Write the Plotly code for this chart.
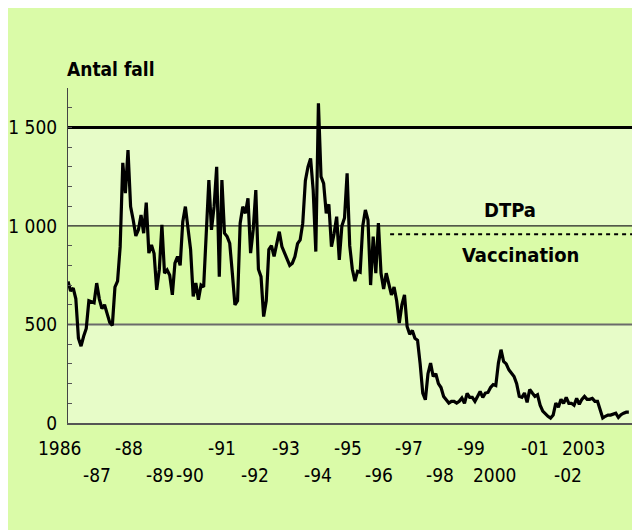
import plotly.graph_objects as go

# ---- data (monthly cases, Jan 1986 - Dec 2003) ----
start_year = 1986
cases = [
    718, 670, 684, 630, 430, 390, 440, 480, 620, 615, 610, 710,
    630, 580, 600, 555, 510, 495, 690, 720, 895, 1320, 1166, 1385,
    1098, 1030, 949, 980, 1056, 963, 1118, 862, 904, 860, 676, 777,
    1005, 760, 777, 750, 650, 811, 845, 800, 1022, 1098, 972, 880,
    642, 710, 625, 700, 690, 929, 1233, 980, 1098, 1300, 743, 1233,
    963, 946, 912, 760, 600, 620, 1014, 1098, 1064, 1140, 862, 980,
    1182, 780, 743, 540, 620, 880, 900, 845, 912, 971, 895, 861,
    828, 800, 811, 845, 910, 929, 1014, 1230, 1300, 1343, 1180, 870,
    1622, 1250, 1216, 1064, 1110, 895, 960, 1047, 828, 1000, 1040, 1267,
    900, 780, 720, 770, 765, 1000, 1081, 1030, 700, 946, 760, 1014,
    760, 680, 760, 710, 650, 690, 620, 507, 600, 650, 490, 450,
    470, 430, 420, 300, 152, 118, 250, 304, 236, 250, 200, 180,
    135, 118, 101, 110, 110, 101, 110, 127, 100, 150, 130, 130,
    110, 135, 160, 130, 152, 155, 180, 195, 190, 304, 372, 312,
    300, 270, 253, 236, 200, 135, 130, 152, 105, 170, 152, 135,
    143, 90, 60, 45, 34, 25, 40, 101, 80, 120, 100, 130,
    100, 100, 90, 125, 95, 120, 135, 120, 120, 125, 110, 110,
    60, 25, 34, 40, 40, 45, 50, 28, 42, 50, 55, 55,
]
years = [start_year + i / 12 for i in range(len(cases))]

y_tick_values = [0, 500, 1000, 1500]
y_tick_labels = ["0", "500", "1 000", "1 500"]

x_labels_row1 = ["1986", "-88", "-91", "-93", "-95", "-97", "-99", "-01", "2003"]
x_pos_row1 = [1985.74, 1987.95, 1990.91, 1992.96, 1994.95, 1996.89, 1998.88, 2000.92, 2002.49]
x_labels_row2 = ["-87", "-89", "-90", "-92", "-94", "-96", "-98", "2000", "-02"]
x_pos_row2 = [1986.92, 1988.94, 1989.90, 1991.97, 1993.99, 1995.94, 1997.88, 1999.64, 2001.96]

vacc_start = 1996.29
vacc_level = 958
high_line = 1500

# ---- style ----
OUTER = "#dafba8"
LIGHT = "#e7fcc8"
FAMILY = "DejaVu Sans Condensed, DejaVu Sans, sans-serif"
x_end = start_year + 216.6 / 12
span = x_end - start_year


def fnt(size, weight="normal"):
    return dict(family=FAMILY, size=size, color="black", weight=weight)


fig = go.Figure()
fig.add_trace(go.Scatter(x=years, y=cases, mode="lines",
                         line=dict(color="black", width=3.2), hoverinfo="skip",
                         showlegend=False))

shapes = []
for y0, y1 in [(0, 500), (1000, 1500)]:
    shapes.append(dict(type="rect", xref="paper", yref="y", x0=0, x1=1, y0=y0, y1=y1,
                       fillcolor=LIGHT, line=dict(width=0), layer="below"))
shapes.append(dict(type="line", xref="paper", yref="y", x0=0, x1=1, y0=500, y1=500,
                   line=dict(color="#6a6a6a", width=2), layer="below"))
shapes.append(dict(type="line", xref="paper", yref="y", x0=0, x1=1, y0=1000, y1=1000,
                   line=dict(color="#222222", width=1.2), layer="below"))
shapes.append(dict(type="line", xref="paper", yref="y", x0=0, x1=1, y0=high_line, y1=high_line,
                   line=dict(color="black", width=3), layer="below"))
shapes.append(dict(type="line", xref="x", yref="y", x0=vacc_start, x1=x_end, y0=vacc_level, y1=vacc_level,
                   line=dict(color="black", width=2, dash="4px,4px")))

annotations = []
for txt, xp in zip(x_labels_row1, x_pos_row1):
    annotations.append(dict(x=(xp - start_year) / span, y=0, xref="paper", yref="paper", text=txt,
                            showarrow=False, xanchor="center", yanchor="middle", yshift=-25,
                            font=fnt(19)))
for txt, xp in zip(x_labels_row2, x_pos_row2):
    annotations.append(dict(x=(xp - start_year) / span, y=0, xref="paper", yref="paper", text=txt,
                            showarrow=False, xanchor="center", yanchor="middle", yshift=-52,
                            font=fnt(19)))
annotations.append(dict(x=-3 / 565, y=1, xref="paper", yref="paper", text="Antal fall",
                        showarrow=False, xanchor="left", yanchor="middle", yshift=19,
                        font=fnt(19, "bold")))
annotations.append(dict(x=2000.12, y=1081, xref="x", yref="y", text="DTPa",
                        showarrow=False, xanchor="center", yanchor="middle",
                        font=fnt(20, "bold")))
annotations.append(dict(x=2000.47, y=853, xref="x", yref="y", text="Vaccination",
                        showarrow=False, xanchor="center", yanchor="middle",
                        font=fnt(20, "bold")))

minor_vals = list(range(0, 1701, 100))
minor_text = [y_tick_labels[y_tick_values.index(v)] if v in y_tick_values else "" for v in minor_vals]

fig.update_layout(
    width=640, height=530,
    margin=dict(l=60, r=15, t=80, b=115),
    paper_bgcolor=OUTER, plot_bgcolor=OUTER,
    shapes=shapes, annotations=annotations,
    xaxis=dict(range=[start_year, x_end], showgrid=False, zeroline=False,
               showticklabels=False, ticks="", showline=True, linecolor="#555555",
               linewidth=2, fixedrange=True, automargin=False),
    yaxis=dict(range=[0, 1700], showgrid=False, zeroline=False,
               tickvals=minor_vals, ticktext=minor_text, ticks="inside", ticklen=4,
               tickcolor="#555555", tickwidth=1, showline=True, linecolor="#444444",
               linewidth=1, ticklabelstandoff=6, automargin=False,
               tickfont=fnt(19), fixedrange=True),
)

fig.write_html("out.html")
